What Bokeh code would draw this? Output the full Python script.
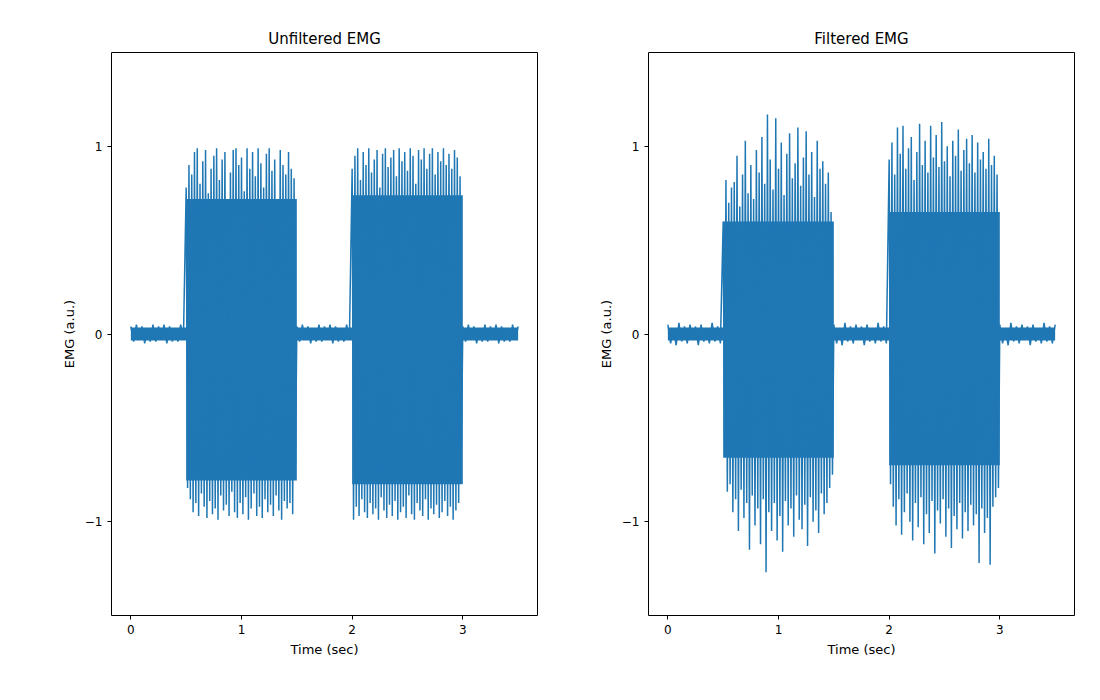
import numpy as np
from bokeh.plotting import figure
from bokeh.layouts import row
from bokeh.models import FixedTicker, CustomJSTickFormatter
from bokeh.embed import file_html
from bokeh.resources import INLINE

# quiet baseline readings (a.u.)
base_raw = [0.04, -0.04, 0.05, -0.03, 0.04, -0.05, 0.03, -0.04, 0.05, -0.04,
            0.04, -0.03, 0.05, -0.05, 0.04, -0.04, 0.03, -0.04, 0.05, -0.03]
base_filt = [0.05, -0.05, 0.03, -0.06, 0.06, -0.04, 0.04, -0.05, 0.05, -0.03,
             0.04, -0.06, 0.05, -0.04, 0.03, -0.05, 0.06, -0.04, 0.04, -0.05]

# solid body of each burst (upper, lower), and of the quiet baseline
body_raw = [(0.72, -0.78), (0.74, -0.80)]
body_filt = [(0.60, -0.66), (0.65, -0.70)]
body_base = (0.035, -0.035)

# burst peaks, unfiltered
raw1_up = [0.78, 0.90, 0.85, 0.97, 0.99, 0.80, 0.92, 0.98, 0.75, 0.88,
           0.95, 0.99, 0.82, 0.93, 0.97, 0.70, 0.86, 0.98, 0.99, 0.90,
           0.94, 0.76, 0.99, 0.88, 0.97, 0.84, 0.99, 0.91, 0.78, 0.96,
           0.99, 0.87, 0.93, 0.72, 0.98, 0.90, 0.85, 0.97, 0.88, 0.83]
raw1_lo = [-0.82, -0.88, -0.95, -0.90, -0.97, -0.85, -0.92, -0.98, -0.89, -0.96,
           -0.93, -0.99, -0.86, -0.94, -0.91, -0.97, -0.84, -0.95, -0.98, -0.90,
           -0.96, -0.87, -0.99, -0.93, -0.85, -0.97, -0.92, -0.98, -0.88, -0.95,
           -0.91, -0.97, -0.86, -0.94, -0.99, -0.89, -0.93, -0.90, -0.96, -0.70]
raw2_up = [0.88, 0.95, 0.99, 0.82, 0.97, 0.90, 0.99, 0.86, 0.93, 0.98,
           0.78, 0.96, 0.99, 0.89, 0.94, 0.98, 0.84, 0.99, 0.92, 0.97,
           0.87, 0.99, 0.95, 0.80, 0.98, 0.93, 0.99, 0.88, 0.96, 0.99,
           0.85, 0.97, 0.92, 0.99, 0.90, 0.96, 0.88, 0.98, 0.94, 0.84]
raw2_lo = [-0.99, -0.92, -0.97, -0.88, -0.95, -0.98, -0.90, -0.96, -0.93, -0.99,
           -0.87, -0.94, -0.98, -0.91, -0.97, -0.89, -0.99, -0.95, -0.92, -0.98,
           -0.86, -0.96, -0.99, -0.90, -0.94, -0.97, -0.88, -0.99, -0.93, -0.96,
           -0.91, -0.98, -0.95, -0.89, -0.97, -0.92, -0.99, -0.94, -0.90, -0.60]

# burst peaks, filtered
filt1_up = [0.60, 0.82, 0.70, 0.78, 0.81, 0.95, 0.68, 0.85, 1.03, 0.75,
            0.90, 0.72, 0.98, 0.86, 1.05, 0.80, 1.17, 0.93, 0.77, 1.15,
            0.88, 1.02, 0.74, 0.96, 1.07, 0.83, 0.91, 1.10, 0.79, 0.94,
            1.08, 0.85, 0.97, 0.73, 1.03, 0.88, 0.92, 0.80, 0.86, 0.65]
filt1_lo = [-0.65, -0.84, -0.80, -0.95, -0.88, -1.05, -0.83, -0.98, -0.90, -1.15,
            -0.86, -1.02, -0.93, -1.12, -0.88, -1.27, -0.95, -1.05, -0.90, -1.10,
            -0.97, -1.16, -0.89, -1.02, -0.93, -1.08, -0.86, -0.99, -1.04, -0.91,
            -1.13, -0.87, -1.00, -0.94, -1.06, -0.85, -0.96, -0.90, -0.82, -0.75]
filt2_up = [0.93, 1.02, 0.85, 1.10, 0.96, 1.11, 0.88, 0.99, 1.05, 0.82,
            0.97, 1.12, 0.90, 1.03, 0.86, 1.11, 0.94, 1.06, 0.89, 1.13,
            0.92, 1.00, 0.84, 1.03, 0.95, 1.09, 0.87, 0.98, 1.04, 0.91,
            1.06, 0.86, 1.02, 0.93, 0.97, 0.88, 1.04, 0.90, 0.95, 0.85]
filt2_lo = [-0.80, -0.92, -1.02, -0.88, -1.07, -0.95, -0.85, -1.00, -1.10, -0.90,
            -1.03, -0.87, -1.12, -0.96, -1.06, -0.89, -1.17, -0.94, -1.01, -0.88,
            -1.08, -0.93, -1.14, -0.97, -1.04, -0.90, -1.09, -0.95, -1.05, -0.91,
            -1.02, -0.96, -1.22, -0.93, -1.06, -0.98, -1.23, -0.92, -0.87, -0.82]

quiet = [(0.0, 0.5), (1.5, 2.0), (3.0, 3.5)]
bursts = [(0.5, 1.5), (2.0, 3.0)]


def zigzag(up, lo):
    out = []
    for a, b in zip(up, lo):
        out += [a, b]
    return out


def build(base, b1, b2):
    xs, ys = [], []
    segs = [(quiet[0], base), (bursts[0], b1), (quiet[1], base),
            (bursts[1], b2), (quiet[2], base)]
    for (t0, t1), vals in segs:
        xs += list(np.linspace(t0, t1, len(vals), endpoint=False))
        ys += vals
    xs.append(3.5)
    ys.append(base[0])
    return xs, ys


blue = "#1f77b4"
fmt = CustomJSTickFormatter(code="return tick.toString().replace('-', '\u2212');")


def panel(title, xs, ys, body, left, right):
    p = figure(width=left + 426 + right, height=685, x_range=(-0.175, 3.675),
               y_range=(-1.5, 1.5), output_backend="svg", toolbar_location=None,
               min_border_left=left, min_border_right=right,
               min_border_top=52, min_border_bottom=70, title=title)
    for t0, t1 in quiet:
        p.varea(x=[t0, t1], y1=[body_base[1]] * 2, y2=[body_base[0]] * 2, color=blue)
    for (t0, t1), (hi, lo) in zip(bursts, body):
        p.varea(x=[t0, t1], y1=[lo, lo], y2=[hi, hi], color=blue)
    p.line(xs, ys, color=blue, line_width=1.5)
    p.title.align = "center"
    p.title.text_font_size = "15px"
    p.title.text_font_style = "normal"
    p.title.text_font = "DejaVu Sans"
    p.title.text_color = "black"
    p.xgrid.visible = False
    p.ygrid.visible = False
    p.xaxis.ticker = FixedTicker(ticks=[0, 1, 2, 3])
    p.yaxis.ticker = FixedTicker(ticks=[-1, 0, 1])
    p.yaxis.formatter = fmt
    p.xaxis.axis_label = "Time (sec)"
    p.yaxis.axis_label = "EMG (a.u.)"
    for ax in (p.xaxis, p.yaxis):
        ax.axis_label_text_font_style = "normal"
        ax.axis_label_text_font_size = "13px"
        ax.axis_label_text_font = "DejaVu Sans"
        ax.axis_label_text_color = "black"
        ax.major_label_text_font_size = "12px"
        ax.major_label_text_font = "DejaVu Sans"
        ax.major_label_text_color = "black"
        ax.minor_tick_line_color = None
        ax.major_tick_out = 4
        ax.major_tick_in = 0
        ax.axis_line_color = None
    p.outline_line_color = "black"
    p.outline_line_alpha = 1
    return p


x1, y1 = build(base_raw, zigzag(raw1_up, raw1_lo), zigzag(raw2_up, raw2_lo))
x2, y2 = build(base_filt, zigzag(filt1_up, filt1_lo), zigzag(filt2_up, filt2_lo))
p1 = panel("Unfiltered EMG", x1, y1, body_raw, 111, 31)
p2 = panel("Filtered EMG", x2, y2, body_filt, 80, 18)

layout = row(p1, p2)
open("out.html", "w").write(file_html(layout, INLINE))
